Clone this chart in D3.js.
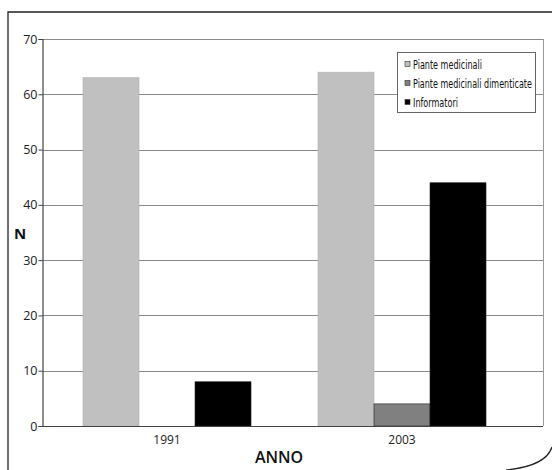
<!DOCTYPE html>
<html><head><meta charset="utf-8">
<script src="https://cdn.jsdelivr.net/npm/d3@7"></script>
<style>body{margin:0;background:#fff}svg{display:block}</style>
</head><body>
<svg id="c" width="552" height="470"></svg>
<script>
const categories = ["1991", "2003"];
const seriesNames = ["Piante medicinali", "Piante medicinali dimenticate", "Informatori"];
const pianteMedicinali = [63, 64];
const pianteDimenticate = [0, 4];
const informatori = [8, 44];
const yTicks = [0, 10, 20, 30, 40, 50, 60, 70];
const seriesColors = ["#c0c0c0", "#808080", "#000000"];

const series = [pianteMedicinali, pianteDimenticate, informatori];
const svg = d3.select("#c");
const m = {l: 42, r: 543, t: 39, b: 426};

// outer frame
svg.append("path")
  .attr("d", "M8,470 L8,12 L552,12 M552,447 Q546,466 506,470")
  .attr("fill", "none").attr("stroke", "#222").attr("stroke-width", 1.3);

const y = d3.scaleLinear().domain([0, 70]).range([m.b, m.t]);
const x0 = d3.scaleBand().domain(categories).range([49.5, 519.5]).paddingInner(0).paddingOuter(0);
const x1 = d3.scaleBand().domain(d3.range(3)).range([0, x0.bandwidth()]).paddingOuter(0.598).paddingInner(0);

// gridlines
svg.append("g").selectAll("line").data(yTicks.filter(t => t > 0)).join("line")
  .attr("x1", m.l).attr("x2", m.r)
  .attr("y1", d => Math.round(y(d)) + 0.5).attr("y2", d => Math.round(y(d)) + 0.5)
  .attr("stroke", "#8a8a8a").attr("stroke-width", 1);
// right border
svg.append("line").attr("x1", m.r + 0.5).attr("x2", m.r + 0.5).attr("y1", m.t).attr("y2", m.b)
  .attr("stroke", "#9a9a9a");

// bars
const g = svg.append("g");
categories.forEach((c, i) => {
  series.forEach((s, j) => {
    if (s[i] <= 0) return;
    g.append("rect")
      .attr("x", x0(c) + x1(j))
      .attr("y", y(s[i]))
      .attr("width", x1.bandwidth())
      .attr("height", y(0) - y(s[i]))
      .attr("fill", seriesColors[j])
      .attr("stroke", j === 0 ? "#b0b0b0" : "#222").attr("stroke-width", 0.6);
  });
});

// y axis
const ya = svg.append("g").attr("transform", `translate(${m.l + 0.5},0)`)
  .call(d3.axisLeft(y).tickValues(yTicks).tickSize(4).tickFormat(d3.format("d")));
ya.select(".domain").attr("stroke", "#444").attr("stroke-width", 1.2);
ya.selectAll(".tick line").attr("stroke", "#444");
ya.selectAll("text").attr("font-family", "'Open Sans', 'DejaVu Sans', sans-serif")
  .attr("font-size", 12.5).attr("fill", "#222").attr("x", -5);

// x axis
const xa = svg.append("g").attr("transform", `translate(0,${m.b + 0.5})`)
  .call(d3.axisBottom(x0).tickSize(0).tickPadding(9));
xa.select(".domain").remove();
xa.append("line").attr("x1", m.l).attr("x2", m.r).attr("stroke", "#444").attr("stroke-width", 1.2);
xa.selectAll("text").attr("font-family", "'Open Sans', 'DejaVu Sans', sans-serif")
  .attr("font-size", 12).attr("fill", "#222");

// titles
svg.append("text").attr("x", 279).attr("y", 463).attr("text-anchor", "middle")
  .attr("font-family", "'Open Sans', 'DejaVu Sans', sans-serif").attr("font-weight", 600)
  .attr("font-size", 16).attr("fill", "#111").text("ANNO");
svg.append("text").attr("x", 20).attr("y", 239).attr("text-anchor", "middle")
  .attr("font-family", "'Open Sans', 'DejaVu Sans', sans-serif").attr("font-weight", "bold")
  .attr("font-size", 15).attr("fill", "#111").text("N");

// legend
const lg = svg.append("g");
lg.append("rect").attr("x", 397.5).attr("y", 52.5).attr("width", 138).attr("height", 60)
  .attr("fill", "#fff").attr("stroke", "#666").attr("stroke-width", 1);
const lw = [69, 119, 45];
seriesNames.forEach((n, i) => {
  const cy = 64 + i * 19;
  lg.append("rect").attr("x", 405).attr("y", cy - 2.5).attr("width", 5).attr("height", 5)
    .attr("fill", seriesColors[i]).attr("stroke", "#333").attr("stroke-width", 0.6);
  const t = lg.append("text").attr("x", 0).attr("y", 0)
    .attr("font-family", "'Liberation Sans Narrow', 'DejaVu Sans Condensed', sans-serif")
    .attr("font-size", 12.5).attr("fill", "#111").text(n);
  const nat = t.node().getComputedTextLength();
  t.attr("transform", `translate(413,${cy + 4.5}) scale(${lw[i] / nat},1)`);
});
</script>
</body></html>
